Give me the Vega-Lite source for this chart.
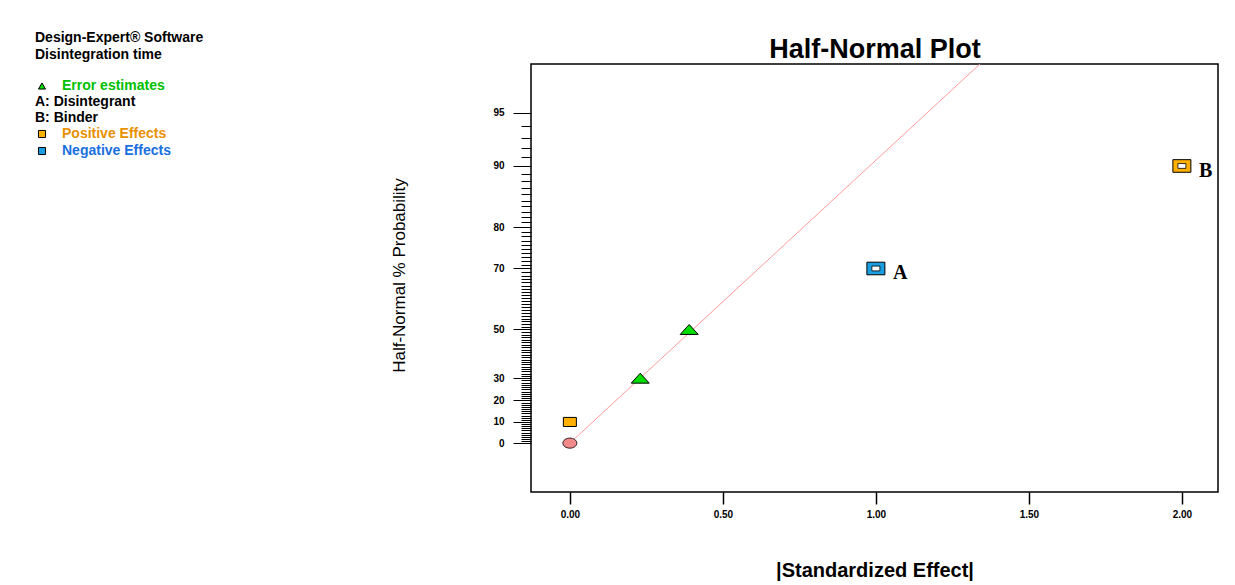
{
  "$schema": "https://vega.github.io/schema/vega-lite/v6.json",
  "width": 687,
  "height": 428,
  "autosize": {"type": "none"},
  "padding": {"left": 531, "top": 64, "right": 17, "bottom": 93},
  "background": "white",
  "config": {
    "view": {"stroke": "black", "strokeWidth": 1.5},
    "font": "Liberation Sans",
    "legend": {
      "orient": "none",
      "padding": 0,
      "labelFont": "Liberation Sans",
      "labelFontSize": 14,
      "labelFontWeight": "bold",
      "labelLimit": 400,
      "labelOffset": 13,
      "symbolSize": 50,
      "symbolStrokeColor": "black",
      "symbolStrokeWidth": 1,
      "rowPadding": 2,
      "titleFont": "Liberation Sans",
      "titleFontSize": 14,
      "titleFontWeight": "bold",
      "titleColor": "black",
      "titleLimit": 400
    }
  },
  "resolve": {"axis": {"x": "independent"}, "scale": {"color": "independent"}},
  "datasets": {
    "effects": [
      {"effect": "Error 1", "absEffect": 0.23, "z": 0.38532, "pct": 30, "cat": "Error estimates", "lab": "", "factor": ""},
      {"effect": "Error 2", "absEffect": 0.39, "z": 0.67449, "pct": 50, "cat": "Error estimates", "lab": "", "factor": ""},
      {"effect": "AB", "absEffect": 0.0, "z": 0.12566, "pct": 10, "cat": "Positive Effects", "lab": "", "factor": ""},
      {"effect": "A", "absEffect": 1.0, "z": 1.03643, "pct": 70, "cat": "Negative Effects", "lab": "A", "factor": "A: Disintegrant"},
      {"effect": "B", "absEffect": 2.0, "z": 1.64485, "pct": 90, "cat": "Positive Effects", "lab": "B", "factor": "B: Binder"}
    ],
    "origin": [{"absEffect": 0, "z": 0, "pct": 0}],
    "fit": [{"absEffect": 0, "z": 0}, {"absEffect": 1.34, "z": 2.25}]
  },
  "encoding": {
    "x": {
      "field": "absEffect",
      "type": "quantitative",
      "scale": {"domain": [-0.127, 2.118], "nice": false, "zero": false},
      "axis": null
    },
    "y": {
      "field": "z",
      "type": "quantitative",
      "scale": {"domain": [-0.29, 2.25], "nice": false, "zero": false},
      "axis": {
        "title": "Half-Normal % Probability",
        "values": [0,0.01253,0.02507,0.0376,0.05015,0.06271,0.07527,0.08784,0.10043,0.11304,0.12566,0.1383,0.15097,0.16366,0.17637,0.18912,0.20189,0.2147,0.22754,0.24043,0.25335,0.26631,0.27932,0.29237,0.30548,0.31864,0.33185,0.34513,0.35846,0.37186,0.38532,0.39886,0.41246,0.42615,0.43991,0.45376,0.4677,0.48173,0.49585,0.51007,0.5244,0.53884,0.55338,0.56805,0.58284,0.59776,0.61281,0.62801,0.64335,0.65884,0.67449,0.69031,0.7063,0.72248,0.73885,0.75542,0.77219,0.78919,0.80642,0.82389,0.84162,0.85961,0.8779,0.89647,0.91537,0.93459,0.95417,0.97411,0.99446,1.01522,1.03643,1.05812,1.08032,1.10306,1.12639,1.15035,1.17499,1.20036,1.22653,1.25357,1.28155,1.31058,1.34076,1.3722,1.40507,1.43953,1.47579,1.5141,1.55477,1.59819,1.64485,1.6954,1.75069,1.81191,1.88079,1.95996],
        "labelExpr": "indexof([0,10,20,30,50,70,80,90,95], round(200*cumulativeNormal(datum.value)-100)) >= 0 ? format(round(200*cumulativeNormal(datum.value)-100), 'd') : ''",
        "tickSize": {"condition": {"test": "indexof([0,10,20,30,50,70,80,90,95], round(200*cumulativeNormal(datum.value)-100)) >= 0", "value": 18}, "value": 10},
        "grid": false,
        "domain": false,
        "tickColor": "black",
        "tickWidth": 1,
        "labelFontSize": 10,
        "labelFontWeight": "bold",
        "labelColor": "black",
        "labelPadding": 9,
        "labelOverlap": false,
        "labelFlush": false,
        "titleX": -123,
        "titleY": 211,
        "titleFontSize": 17,
        "titleFontWeight": "normal",
        "titleColor": "black",
        "titleBaseline": "bottom"
      }
    }
  },
  "layer": [
    {
      "data": {"name": "fit"},
      "mark": {"type": "line", "color": "#ff9a9a", "strokeWidth": 1, "clip": true},
      "encoding": {
        "x": {
          "field": "absEffect",
          "type": "quantitative",
          "scale": {"domain": [-0.127, 2.118], "nice": false, "zero": false},
          "axis": {
            "orient": "bottom",
            "title": "|Standardized Effect|",
            "values": [0, 0.5, 1, 1.5, 2],
            "format": ".2f",
            "grid": false,
            "domain": false,
            "tickSize": 12,
            "tickColor": "black",
            "tickWidth": 1.5,
            "labelFontSize": 10,
            "labelFontWeight": "bold",
            "labelColor": "black",
            "labelPadding": 5,
            "labelFlush": false,
            "titleFontSize": 20,
            "titleFontWeight": "bold",
            "titleColor": "black",
            "titleY": 84,
            "titleBaseline": "alphabetic"
          }
        }
      }
    },
    {
      "data": {"name": "origin"},
      "mark": {
        "type": "point",
        "shape": "M-1,0A1,0.72,0,1,0,1,0A1,0.72,0,1,0,-1,0Z",
        "filled": true,
        "fill": "#f08a8a",
        "stroke": "black",
        "strokeWidth": 0.8,
        "size": 196,
        "opacity": 1
      },
      "encoding": {
        "x": {
          "field": "absEffect",
          "type": "quantitative",
          "scale": {"domain": [-0.127, 2.118], "nice": false, "zero": false},
          "axis": {
            "orient": "top",
            "title": "Half-Normal Plot",
            "labels": false,
            "ticks": false,
            "domain": false,
            "grid": false,
            "titleFont": "Liberation Sans",
            "titleFontSize": 27,
            "titleFontWeight": "bold",
            "titleColor": "black",
            "titleY": -7,
            "titleBaseline": "alphabetic"
          }
        }
      }
    },
    {
      "data": {"name": "effects"},
      "transform": [{"filter": "datum.cat === 'Error estimates'"}],
      "mark": {"type": "point", "shape": "M-1,0.55L1,0.55L0,-0.55Z", "filled": true, "stroke": "black", "strokeWidth": 1, "opacity": 1, "size": 324},
      "encoding": {
        "color": {
          "field": "cat",
          "type": "nominal",
          "scale": {"domain": ["Error estimates"], "range": ["#00dd00"]},
          "legend": {
            "legendX": -496,
            "legendY": -33,
            "title": ["Design-Expert® Software", "Disintegration time"],
            "titleLineHeight": 17,
            "titlePadding": 17,
            "symbolType": "triangle-up",
            "labelColor": "#00c000"
          }
        }
      }
    },
    {
      "data": {"name": "effects"},
      "transform": [{"filter": "datum.cat === 'Positive Effects'"}],
      "mark": {"type": "point", "shape": "M-1,-0.7L1,-0.7L1,0.7L-1,0.7Z", "filled": true, "stroke": "black", "strokeWidth": 1, "opacity": 1},
      "encoding": {
        "color": {
          "field": "cat",
          "type": "nominal",
          "scale": {"domain": ["Positive Effects"], "range": ["#ffb000"]},
          "legend": {
            "legendX": -496,
            "legendY": 63,
            "title": null,
            "symbolType": "square",
            "labelColor": "#e89000"
          }
        },
        "size": {"condition": {"test": "datum.lab !== ''", "value": 324}, "value": 169}
      }
    },
    {
      "data": {"name": "effects"},
      "transform": [{"filter": "datum.cat === 'Negative Effects'"}],
      "mark": {"type": "point", "shape": "M-1,-0.7L1,-0.7L1,0.7L-1,0.7Z", "filled": true, "stroke": "black", "strokeWidth": 1, "opacity": 1, "size": 324},
      "encoding": {
        "color": {
          "field": "cat",
          "type": "nominal",
          "scale": {"domain": ["Negative Effects"], "range": ["#1a9ee0"]},
          "legend": {
            "legendX": -496,
            "legendY": 80,
            "title": null,
            "symbolType": "square",
            "labelColor": "#1a6fe0"
          }
        }
      }
    },
    {
      "data": {"name": "effects"},
      "transform": [{"filter": "datum.lab !== ''"}],
      "mark": {
        "type": "point",
        "shape": "M-1,-0.6L1,-0.6L1,0.6L-1,0.6Z",
        "filled": true,
        "fill": "white",
        "stroke": "black",
        "strokeWidth": 0.8,
        "size": 64,
        "opacity": 1
      }
    },
    {
      "data": {"name": "effects"},
      "transform": [{"filter": "datum.lab !== ''"}],
      "mark": {
        "type": "text",
        "align": "left",
        "baseline": "middle",
        "dx": 17,
        "dy": 5,
        "fontSize": 20,
        "fontWeight": "bold",
        "font": "Liberation Serif"
      },
      "encoding": {
        "text": {"field": "lab"},
        "color": {
          "field": "factor",
          "type": "nominal",
          "scale": {"domain": ["A: Disintegrant", "B: Binder"], "range": ["black", "black"]},
          "legend": {
            "legendX": -510,
            "legendY": 31,
            "title": null,
            "symbolSize": 0,
            "symbolOpacity": 0,
            "symbolStrokeWidth": 0,
            "labelOffset": 0,
            "labelColor": "black"
          }
        }
      }
    }
  ]
}
